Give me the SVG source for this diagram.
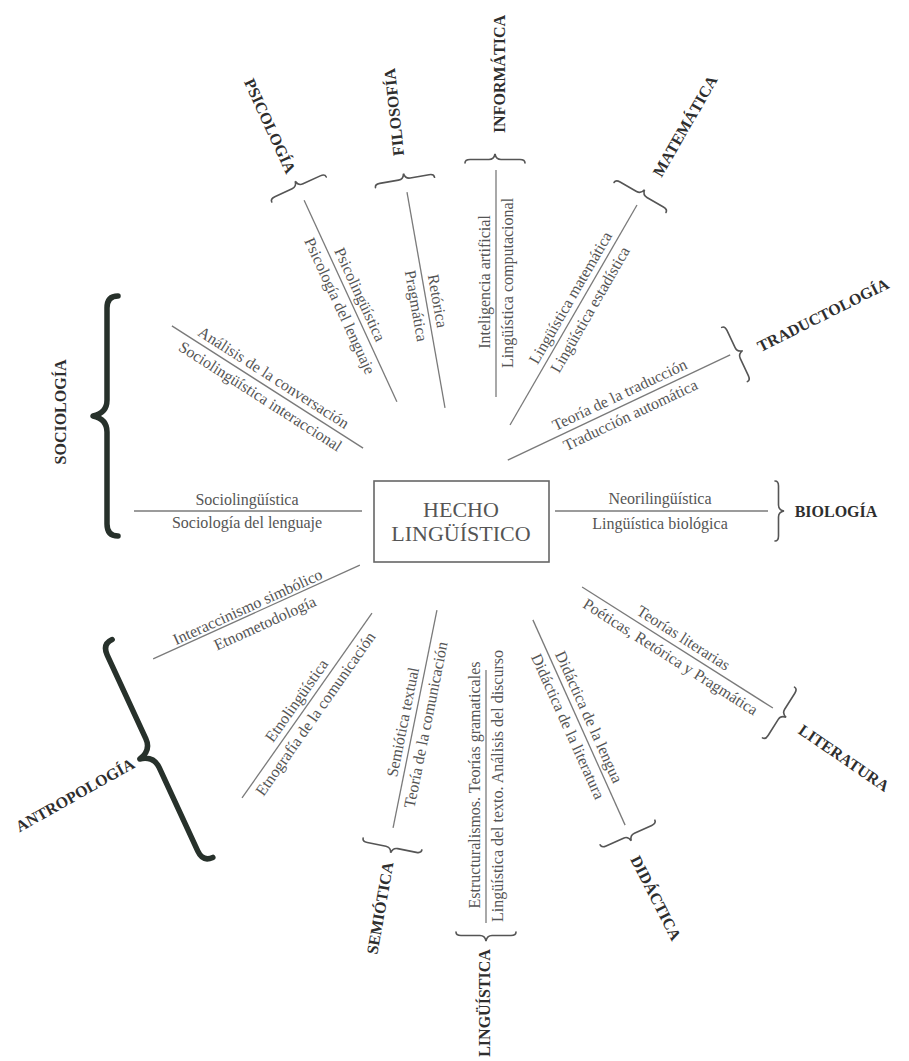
<svg xmlns="http://www.w3.org/2000/svg" xmlns:xlink="http://www.w3.org/1999/xlink" width="909" height="1061" viewBox="0 0 909 1061">
<style>
.sp{fill:#555;font-family:"Liberation Serif","Times New Roman",serif;font-size:16px;text-anchor:middle}
.lb{fill:#2e2e2e;font-family:"Liberation Serif","Times New Roman",serif;font-size:16px;font-weight:bold;text-anchor:middle}
.ln{stroke:#7a7a7a;stroke-width:1.3}
.br{fill:none;stroke:#555;stroke-width:1.6;stroke-linecap:round}
.bb{fill:none;stroke:#27312b;stroke-width:5.5;stroke-linecap:round;stroke-linejoin:round}
.hc{fill:#555;font-family:"Liberation Serif","Times New Roman",serif;font-size:22px;text-anchor:middle}
</style>
<defs>
<path id="tb" d="M-30,0 Q-30,-3.5 -25,-3.5 L-6,-3.5 Q-1,-3.5 0,-9 Q1,-3.5 6,-3.5 L25,-3.5 Q30,-3.5 30,0"/>
<path id="bgb" d="M-120,0 Q-120,-11 -108,-11 L-16,-11 Q-3,-11 0,-25 Q3,-11 16,-11 L108,-11 Q120,-11 120,0"/>
</defs>
<rect width="909" height="1061" fill="#fff"/>

<g id="connectors">
<line class="ln" x1="-114" x2="114" transform="translate(248,511)"/>
<line class="ln" x1="-113.5" x2="113.5" transform="translate(267.5,387) rotate(32.6)"/>
<line class="ln" x1="-111" x2="111" transform="translate(350.5,301) rotate(65.3)"/>
<line class="ln" x1="-109.5" x2="109.5" transform="translate(426,300) rotate(80)"/>
<line class="ln" x1="-113.5" x2="113.5" transform="translate(496,283.5) rotate(-90)"/>
<line class="ln" x1="-127" x2="127" transform="translate(573.5,315) rotate(-60)"/>
<line class="ln" x1="-123" x2="123" transform="translate(619,407.5) rotate(-25.3)"/>
<line class="ln" x1="-106.5" x2="106.5" transform="translate(661.5,511)"/>
<line class="ln" x1="-113" x2="113" transform="translate(677.5,647.5) rotate(32.4)"/>
<line class="ln" x1="-112.5" x2="112.5" transform="translate(579,722.5) rotate(65.8)"/>
<line class="ln" x1="-126.5" x2="126.5" transform="translate(486,796.5) rotate(-90)"/>
<line class="ln" x1="-111" x2="111" transform="translate(415,719) rotate(-78.6)"/>
<line class="ln" x1="-113" x2="113" transform="translate(307,705.5) rotate(-54.9)"/>
<line class="ln" x1="-113.5" x2="113.5" transform="translate(256.5,612) rotate(-24.4)"/>
</g>

<g id="hecho">
<rect x="374" y="481" width="175" height="81" fill="none" stroke="#666" stroke-width="1.6"/>
<text class="hc" x="461" y="517">HECHO</text>
<text class="hc" x="461" y="541">LINGÜÍSTICO</text>
</g>

<g id="sociologia">
<use href="#bgb" class="bb" transform="translate(118,416) rotate(-90)"/>
<text class="lb" transform="translate(60,412) rotate(-90)" y="5.5">SOCIOLOGÍA</text>
<g transform="translate(248,511)">
<text class="sp" x="-1" y="-6">Sociolingüística</text>
<text class="sp" x="-1" y="17">Sociología del lenguaje</text>
</g>
<g transform="translate(267.5,387) rotate(32.6)">
<text class="sp" x="0" y="-6">Análisis de la conversación</text>
<text class="sp" x="-1" y="17">Sociolingüística interaccional</text>
</g>
</g>

<g id="psicologia">
<use href="#tb" class="br" transform="translate(299,189.5) rotate(-24.7)"/>
<text class="lb" transform="translate(270,126) rotate(65.3)" y="5.5">PSICOLOGÍA</text>
<g transform="translate(350.5,301) rotate(65.3)">
<text class="sp" x="-2" y="-6">Psicolingüística</text>
<text class="sp" x="0" y="17">Psicología del lenguaje</text>
</g>
</g>

<g id="filosofia">
<use href="#tb" class="br" transform="translate(405,182.5) rotate(-10)"/>
<text class="lb" transform="translate(394,112) rotate(-96)" y="5.5">FILOSOFÍA</text>
<g transform="translate(426,300) rotate(80)">
<text class="sp" x="3" y="-6">Retórica</text>
<text class="sp" x="4" y="16">Pragmática</text>
</g>
</g>

<g id="informatica">
<use href="#tb" class="br" transform="translate(495,163)"/>
<text class="lb" transform="translate(499,74) rotate(-90)" y="5.5">INFORMÁTICA</text>
<g transform="translate(496,283.5) rotate(-90)">
<text class="sp" x="1.5" y="-6">Inteligencia artificial</text>
<text class="sp" x="0.5" y="17">Lingüística computacional</text>
</g>
</g>

<g id="matematica">
<use href="#tb" class="br" transform="translate(640,197.5) rotate(30)"/>
<text class="lb" transform="translate(685,126) rotate(-60)" y="5.5">MATEMÁTICA</text>
<g transform="translate(573.5,315) rotate(-60)">
<text class="sp" x="13.5" y="-6">Lingüística matemática</text>
<text class="sp" x="13" y="17">Lingüística estadística</text>
</g>
</g>

<g id="traductologia">
<use href="#tb" class="br" transform="translate(734.5,354.5) rotate(64.7)"/>
<text class="lb" transform="translate(823,315) rotate(-26.6)" y="5.5">TRADUCTOLOGÍA</text>
<g transform="translate(619,407.5) rotate(-25.3)">
<text class="sp" x="6" y="-6">Teoría de la traducción</text>
<text class="sp" x="7" y="17">Traducción automática</text>
</g>
</g>

<g id="biologia">
<use href="#tb" class="br" transform="translate(775,511) rotate(90)"/>
<text class="lb" x="836" y="517">BIOLOGÍA</text>
<g transform="translate(661.5,511)">
<text class="sp" x="-1.5" y="-7">Neorilingüística</text>
<text class="sp" x="-1.5" y="18">Lingüística biológica</text>
</g>
</g>

<g id="literatura">
<use href="#tb" class="br" transform="translate(778.5,712.5) rotate(122.3)"/>
<text class="lb" transform="translate(844,758) rotate(34.4)" y="5.5">LITERATURA</text>
<g transform="translate(677.5,647.5) rotate(32.4)">
<text class="sp" x="0" y="-6">Teorías literarias</text>
<text class="sp" x="-1" y="17">Poéticas, Retórica y Pragmática</text>
</g>
</g>

<g id="didactica">
<use href="#tb" class="br" transform="translate(627.5,832.5) rotate(155.8)"/>
<text class="lb" transform="translate(656,898) rotate(63)" y="5.5">DIDÁCTICA</text>
<g transform="translate(579,722.5) rotate(65.8)">
<text class="sp" x="-1" y="-6">Didáctica de la lengua</text>
<text class="sp" x="-1" y="17">Didáctica de la literatura</text>
</g>
</g>

<g id="linguistica">
<use href="#tb" class="br" transform="translate(486,932) rotate(180)"/>
<text class="lb" transform="translate(484,1003) rotate(-90)" y="5.5">LINGÜÍSTICA</text>
<g transform="translate(486,796.5) rotate(-90)">
<text class="sp" x="11.5" y="-6">Estructuralismos. Teorías gramaticales</text>
<text class="sp" x="10.5" y="17">Lingüística del texto. Análisis del discurso</text>
</g>
</g>

<g id="semiotica">
<use href="#tb" class="br" transform="translate(392.5,844) rotate(191.4)"/>
<text class="lb" transform="translate(380,908) rotate(-80)" y="5.5">SEMIÓTICA</text>
<g transform="translate(415,719) rotate(-78.6)">
<text class="sp" x="-5.5" y="-6">Semiótica textual</text>
<text class="sp" x="-3.5" y="17">Teoría de la comunicación</text>
</g>
</g>

<g id="antropologia">
<use href="#bgb" class="bb" transform="translate(162.5,748.5) rotate(-114.8)"/>
<text class="lb" transform="translate(75,795) rotate(-29.4)" y="5.5">ANTROPOLOGÍA</text>
<g transform="translate(307,705.5) rotate(-54.9)">
<text class="sp" x="-2" y="-6">Etnolingüística</text>
<text class="sp" x="-2" y="17">Etnografía de la comunicación</text>
</g>
<g transform="translate(256.5,612) rotate(-24.4)">
<text class="sp" x="-6" y="-3">Interaccinismo simbólico</text>
<text class="sp" x="3" y="19">Etnometodología</text>
</g>
</g>
</svg>
